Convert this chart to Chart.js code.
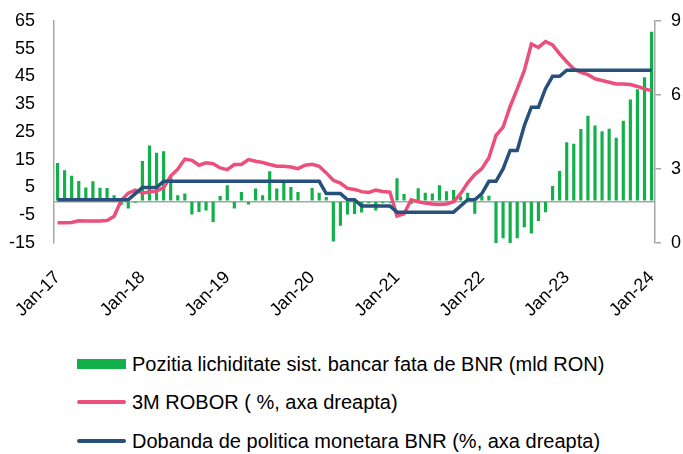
<!DOCTYPE html>
<html>
<head>
<meta charset="utf-8">
<script src="https://cdn.jsdelivr.net/npm/chart.js@4/dist/chart.umd.min.js"></script>
<style>
  html, body { margin: 0; padding: 0; background: #fff; }
  #wrap { position: relative; width: 683px; height: 454px; font-family: "Liberation Sans", Arial, sans-serif; }
  #box { position: absolute; left: 0; top: 0; width: 683px; height: 320px; }
  .leg { position: absolute; left: 77px; height: 22px; display: flex; align-items: center; font-size: 20px; color: #000; white-space: nowrap; }
  .leg .mk { width: 49px; margin-right: 6px; }
</style>
</head>
<body>
<div id="wrap">
  <div id="box"><canvas id="chart"></canvas></div>
  <div id="legend"></div>
</div>
<script>
// date categories Jan-17 .. Jan-24 (monthly)
const monthNames = ['Jan','Feb','Mar','Apr','May','Jun','Jul','Aug','Sep','Oct','Nov','Dec'];
const years = ['17','18','19','20','21','22','23','24'];
const categories = [];
years.forEach(y => monthNames.forEach(m => categories.push(m + '-' + y)));
categories.length = 85;

const leftTicks = [-15, -5, 5, 15, 25, 35, 45, 55, 65];
const rightTicks = [0, 3, 6, 9];

// Pozitia lichiditate sist. bancar fata de BNR (mld RON)
const lichiditate = [
  13.8, 11.2, 9.2, 7.3, 5.0, 7.2, 4.9, 4.8, 2.2, -1.3, -2.6, -0.5,
  14.5, 20.1, 17.5, 18.0, 9.5, 2.2, 2.8, -4.7, -3.8, -3.3, -7.4, 1.9,
  5.8, -2.6, 3.4, -1.1, 4.6, 2.2, 10.8, 4.6, 6.6, 5.2, 3.4, 0.3,
  4.8, 3.1, 1.6, -14.5, -8.8, -4.7, -4.6, -4.0, -0.7, -3.3, -0.7, -0.5,
  8.3, 2.6, -1.0, 4.7, 3.1, 2.8, 5.8, 3.6, 4.1, 1.8, 3.1, -4.5,
  2.0, 2.0, -15.5, -13.3, -15.5, -13.3, -9.3, -11.6, -7.1, -3.9, 5.5, 10.9,
  21.3, 20.7, 26.0, 30.8, 27.3, 25.2, 26.1, 22.9, 29.0, 36.7, 40.4, 44.7,
  61.1
];

// 3M ROBOR (%)
const robor = [
  0.82, 0.82, 0.83, 0.90, 0.89, 0.89, 0.89, 0.91, 1.08, 1.72, 2.02, 2.14,
  2.03, 2.07, 2.10, 2.24, 2.71, 2.99, 3.40, 3.35, 3.15, 3.25, 3.21, 3.04,
  2.97, 3.18, 3.18, 3.38, 3.31, 3.26, 3.18, 3.11, 3.11, 3.08, 3.01, 3.15,
  3.19, 3.11, 2.84, 2.54, 2.43, 2.21, 2.17, 2.08, 2.05, 2.14, 2.09, 2.06,
  1.09, 1.18, 1.75, 1.67, 1.62, 1.58, 1.56, 1.58, 1.67, 2.00, 2.44, 2.77,
  3.01, 3.45, 4.36, 4.69, 5.53, 6.24, 6.98, 8.06, 7.92, 8.16, 8.02, 7.66,
  7.34, 7.05, 6.91, 6.82, 6.65, 6.58, 6.51, 6.44, 6.44, 6.42, 6.34, 6.24,
  6.17
];

// Dobanda de politica monetara BNR (%)
const dobanda = [
  1.75, 1.75, 1.75, 1.75, 1.75, 1.75, 1.75, 1.75, 1.75, 1.75, 1.75, 2.00,
  2.25, 2.25, 2.25, 2.50, 2.50, 2.50, 2.50, 2.50, 2.50, 2.50, 2.50, 2.50,
  2.50, 2.50, 2.50, 2.50, 2.50, 2.50, 2.50, 2.50, 2.50, 2.50, 2.50, 2.50,
  2.50, 2.50, 2.00, 2.00, 2.00, 1.75, 1.75, 1.50, 1.50, 1.50, 1.50, 1.50,
  1.25, 1.25, 1.25, 1.25, 1.25, 1.25, 1.25, 1.25, 1.25, 1.50, 1.75, 1.75,
  2.00, 2.50, 2.50, 3.00, 3.75, 3.75, 4.75, 5.50, 5.50, 6.25, 6.75, 6.75,
  7.00, 7.00, 7.00, 7.00, 7.00, 7.00, 7.00, 7.00, 7.00, 7.00, 7.00, 7.00,
  7.00
];

const GREEN = '#12b04a', PINK = '#ec4f7b', BLUE = '#27507a', AXIS = '#a6a6a6';
const FONT = { family: '"Liberation Sans", Arial, sans-serif', size: 18 };

const series = [
  { label: 'Pozitia lichiditate sist. bancar fata de BNR (mld RON)', type: 'bar' , color: GREEN },
  { label: '3M ROBOR ( %, axa dreapta)', type: 'line', color: PINK },
  { label: 'Dobanda de politica monetara BNR (%, axa dreapta)', type: 'line', color: BLUE }
];

new Chart(document.getElementById('chart'), {
  data: {
    labels: categories,
    datasets: [
      {
        type: 'bar', label: series[0].label, data: lichiditate, yAxisID: 'y',
        backgroundColor: GREEN, barPercentage: 0.45, categoryPercentage: 1, order: 3
      },
      {
        type: 'line', label: series[1].label, data: robor, yAxisID: 'y1',
        borderColor: PINK, borderWidth: 3.5, pointRadius: 0, tension: 0, order: 2
      },
      {
        type: 'line', label: series[2].label, data: dobanda, yAxisID: 'y1',
        borderColor: BLUE, borderWidth: 3.5, pointRadius: 0, tension: 0, order: 1
      }
    ]
  },
  options: {
    responsive: true,
    maintainAspectRatio: false,
    animation: false,
    layout: { padding: { top: 20, left: 0, right: 0, bottom: 0 } },
    plugins: { legend: { display: false }, tooltip: { enabled: false } },
    scales: {
      x: {
        offset: true,
        grid: { display: false },
        border: { display: false },
        ticks: {
          autoSkip: false, minRotation: 45, maxRotation: 45, padding: 16,
          color: '#000', font: FONT,
          callback: (v, i) => (i % 12 === 0 ? categories[i] : '')
        },
        afterFit: s => { s.height = 77; }
      },
      y: {
        position: 'left',
        min: -15, max: 65,
        afterBuildTicks: axis => {
          axis.ticks = leftTicks.concat([0]).sort((a, b) => a - b).map(v => ({ value: v }));
        },
        grid: {
          drawTicks: true, tickLength: 19, tickColor: 'rgba(0,0,0,0)',
          color: c => (c.tick && c.tick.value === 0 ? AXIS : 'rgba(0,0,0,0)'),
          lineWidth: 1.5
        },
        border: { display: true, color: AXIS, width: 1.5 },
        ticks: {
          autoSkip: false, padding: 0, color: '#000', font: FONT,
          callback: v => (v === 0 ? '' : v)
        },
        afterFit: s => { s.width = 54; }
      },
      y1: {
        position: 'right',
        min: 0, max: 9,
        afterBuildTicks: axis => { axis.ticks = rightTicks.map(v => ({ value: v })); },
        grid: { drawOnChartArea: false, color: AXIS, tickLength: 6, lineWidth: 1.5 },
        border: { display: true, color: AXIS, width: 1.5 },
        ticks: { autoSkip: false, padding: 10, color: '#000', font: FONT },
        afterFit: s => { s.width = 26; }
      }
    }
  }
});

// legend below the chart, one row per series
const legend = document.getElementById('legend');
const rowsY = [353, 391, 430];
series.forEach((s, i) => {
  const row = document.createElement('div');
  row.className = 'leg';
  row.style.top = rowsY[i] + 'px';
  const mk = document.createElement('span');
  mk.className = 'mk';
  mk.style.background = s.color;
  mk.style.height = s.type === 'bar' ? '10px' : '4px';
  mk.style.borderRadius = s.type === 'bar' ? '0' : '2px';
  const txt = document.createElement('span');
  txt.textContent = s.label;
  row.appendChild(mk);
  row.appendChild(txt);
  legend.appendChild(row);
});
</script>
</body>
</html>
